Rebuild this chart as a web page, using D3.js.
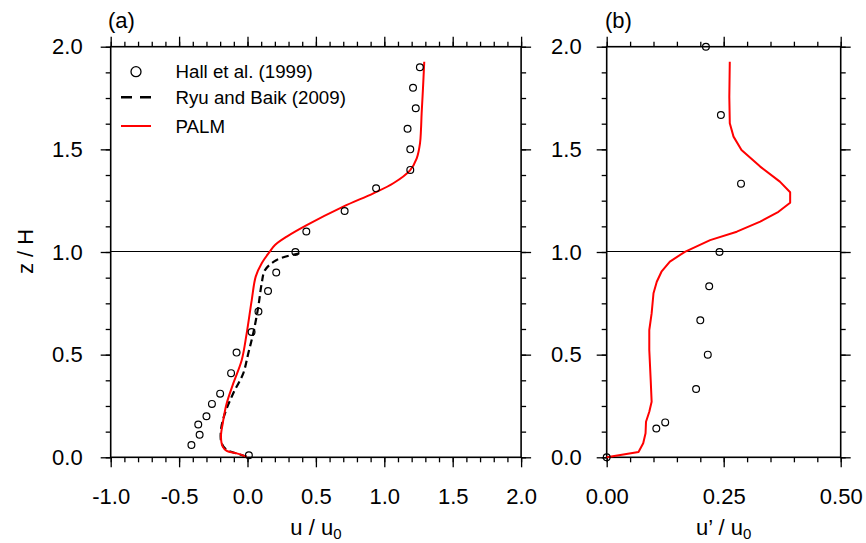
<!DOCTYPE html>
<html>
<head>
<meta charset="utf-8">
<script src="https://cdn.jsdelivr.net/npm/d3@7/dist/d3.min.js"></script>
<style>
  body { margin: 0; background: #fff; }
  svg { display: block; font-family: "Liberation Sans", Arial, Helvetica, sans-serif; }
</style>
</head>
<body>
<svg id="chart" width="866" height="543"></svg>
<script>
// ---- data ----
// panel (a): mean streamwise velocity
var hallZa = [1.90,1.80,1.70,1.60,1.50,1.40,1.31,1.20,1.10,1.00,0.90,0.81,0.71,0.61,0.51,0.41,0.31,0.26,0.20,0.16,0.11,0.06,0.01];
var hallUa = [1.26,1.21,1.23,1.17,1.19,1.19,0.94,0.71,0.43,0.35,0.21,0.15,0.08,0.03,-0.08,-0.12,-0.20,-0.26,-0.30,-0.36,-0.35,-0.41,0.01];

var ryuZ = [0.994,0.961,0.912,0.848,0.734,0.604,0.507,0.409,0.312,0.214,0.133,0.068,0.036,0.019,0.003];
var ryuU = [0.379,0.213,0.128,0.104,0.079,0.042,0.006,-0.031,-0.104,-0.165,-0.194,-0.189,-0.152,-0.079,-0.006];

var palmZa = [1.927,1.80,1.676,1.594,1.529,1.456,1.398,1.335,1.286,1.221,1.131,1.075,1.034,0.999,0.945,0.880,0.766,0.604,0.474,0.360,0.263,0.166,0.100,0.052,0.031,0.019,0.003];
var palmUa = [1.292,1.283,1.273,1.268,1.261,1.237,1.188,1.066,0.920,0.700,0.433,0.287,0.201,0.160,0.104,0.060,0.031,-0.006,-0.042,-0.104,-0.152,-0.181,-0.194,-0.181,-0.152,-0.079,-0.006];

// panel (b): streamwise turbulence intensity
var hallZb = [2.0,1.667,1.333,1.0,0.833,0.667,0.5,0.333,0.17,0.14,0.0];
var hallUb = [0.212,0.244,0.287,0.241,0.219,0.200,0.216,0.191,0.125,0.106,0.0];

var palmZb = [1.927,1.756,1.627,1.562,1.497,1.416,1.343,1.291,1.240,1.196,1.148,1.099,1.058,1.001,0.953,0.904,0.855,0.799,0.701,0.620,0.523,0.377,0.271,0.222,0.173,0.117,0.068,0.026,0.0];
var palmUb = [0.263,0.262,0.263,0.271,0.288,0.328,0.370,0.392,0.392,0.367,0.328,0.278,0.221,0.167,0.135,0.117,0.107,0.100,0.096,0.091,0.091,0.094,0.096,0.091,0.084,0.083,0.078,0.068,0.0];

var ticksXa = [-1.0,-0.5,0.0,0.5,1.0,1.5,2.0];
var ticksXb = [0.0,0.25,0.5];
var ticksY = [0.0,0.5,1.0,1.5,2.0];

var legendNames = ["Hall et al. (1999)", "Ryu and Baik (2009)", "PALM"];

// ---- layout ----
var plotTop = 46.7, plotBottom = 457.3;
var svg = d3.select("#chart");

var y = d3.scaleLinear().domain([0, 2]).range([plotBottom, plotTop]);
var xa = d3.scaleLinear().domain([-1, 2]).range([110.7, 521.1]);
var xb = d3.scaleLinear().domain([0, 0.5]).range([606.7, 840.7]);

function zip(xs, zs){
	return xs.map(function(v, i){ return [v, zs[i]]; });
}

// plain hyphen for negatives, like the original
function fmt(spec){
	var f = d3.format(spec);
	return function(d){ return f(d).replace("\u2212", "-"); };
}

function frame(x, majorX, yPad, xFmt, minorX){
	var g = svg.append("g");
	var x0 = x.range()[0], x1 = x.range()[1];
	var minorY = d3.range(0, 2.0001, 0.125);

	// minor ticks
	g.append("g").attr("transform", "translate(0," + plotBottom + ")")
		.call(d3.axisBottom(x).tickValues(minorX).tickSize(5).tickFormat(""));
	g.append("g").attr("transform", "translate(0," + plotTop + ")")
		.call(d3.axisTop(x).tickValues(minorX).tickSize(5).tickFormat(""));
	g.append("g").attr("transform", "translate(" + x0 + ",0)")
		.call(d3.axisLeft(y).tickValues(minorY).tickSize(5).tickFormat(""));
	g.append("g").attr("transform", "translate(" + x1 + ",0)")
		.call(d3.axisRight(y).tickValues(minorY).tickSize(5).tickFormat(""));

	// major ticks
	g.append("g").attr("class", "lab").attr("transform", "translate(0," + plotBottom + ")")
		.call(d3.axisBottom(x).tickValues(majorX).tickSize(10).tickPadding(21).tickFormat(xFmt));
	g.append("g").attr("transform", "translate(0," + plotTop + ")")
		.call(d3.axisTop(x).tickValues(majorX).tickSize(10).tickFormat(""));
	g.append("g").attr("class", "lab").attr("transform", "translate(" + x0 + ",0)")
		.call(d3.axisLeft(y).tickValues(ticksY).tickSize(10).tickPadding(yPad).tickFormat(fmt(".1f")));
	g.append("g").attr("transform", "translate(" + x1 + ",0)")
		.call(d3.axisRight(y).tickValues(ticksY).tickSize(10).tickFormat(""));

	g.selectAll(".domain").remove();
	g.selectAll(".tick line").attr("stroke", "#000").attr("stroke-width", 1.3);
	g.selectAll(".lab text").attr("font-size", 22).attr("fill", "#000")
		.attr("font-family", "'Liberation Sans', Arial, Helvetica, sans-serif");

	// reference line at z/H = 1
	g.append("line").attr("x1", x0).attr("x2", x1)
		.attr("y1", y(1) - 0.5).attr("y2", y(1) - 0.5)
		.attr("stroke", "#000").attr("stroke-width", 1.2);

	// box
	g.append("rect").attr("x", x0).attr("y", plotTop)
		.attr("width", x1 - x0).attr("height", plotBottom - plotTop)
		.attr("fill", "none").attr("stroke", "#000").attr("stroke-width", 1.6);
	return g;
}

frame(xa, ticksXa, 18, fmt(".1f"), d3.range(-1, 2.0001, 0.1));
frame(xb, ticksXb, 15, fmt(".2f"), d3.range(0, 0.5001, 0.05));

// ---- panel (a) curves ----
var lineA = d3.line().x(function(d){ return xa(d[0]); }).y(function(d){ return y(d[1]); })
	.curve(d3.curveCatmullRom.alpha(0.5));

svg.append("path").datum(zip(ryuU, ryuZ)).attr("d", lineA)
	.attr("fill", "none").attr("stroke", "#000").attr("stroke-width", 2.2)
	.attr("stroke-dasharray", "7,4");

svg.append("path").datum(zip(palmUa, palmZa)).attr("d", lineA)
	.attr("fill", "none").attr("stroke", "#f00").attr("stroke-width", 2);

svg.append("g").selectAll("circle").data(zip(hallUa, hallZa)).join("circle")
	.attr("cx", function(d){ return xa(d[0]); })
	.attr("cy", function(d){ return y(d[1]); })
	.attr("r", 3.4).attr("fill", "none").attr("stroke", "#000").attr("stroke-width", 1.2);

// ---- panel (b) curves ----
var lineB = d3.line().x(function(d){ return xb(d[0]); }).y(function(d){ return y(d[1]); });

svg.append("path").datum(zip(palmUb, palmZb)).attr("d", lineB)
	.attr("fill", "none").attr("stroke", "#f00").attr("stroke-width", 2)
	.attr("stroke-linejoin", "round");

svg.append("g").selectAll("circle").data(zip(hallUb, hallZb)).join("circle")
	.attr("cx", function(d){ return xb(d[0]); })
	.attr("cy", function(d){ return y(d[1]); })
	.attr("r", 3.4).attr("fill", "none").attr("stroke", "#000").attr("stroke-width", 1.2);

// ---- legend ----
var leg = svg.append("g");
var legY = [71.7, 97.3, 126];
leg.append("circle").attr("cx", 136).attr("cy", legY[0]).attr("r", 5)
	.attr("fill", "none").attr("stroke", "#000").attr("stroke-width", 1.3);
leg.append("line").attr("x1", 121).attr("x2", 151).attr("y1", legY[1]).attr("y2", legY[1])
	.attr("stroke", "#000").attr("stroke-width", 2.4).attr("stroke-dasharray", "11,8");
leg.append("line").attr("x1", 121).attr("x2", 151).attr("y1", legY[2]).attr("y2", legY[2])
	.attr("stroke", "#f00").attr("stroke-width", 2);
leg.selectAll("text").data(legendNames).join("text")
	.attr("x", 175.5).attr("y", function(d, i){ return legY[i] + 6.5; })
	.attr("font-size", 18.7).text(function(d){ return d; });

// ---- titles ----
svg.append("text").attr("x", 108).attr("y", 28).attr("font-size", 22).text("(a)");
svg.append("text").attr("x", 605).attr("y", 28).attr("font-size", 22).text("(b)");

svg.append("text").attr("transform", "translate(33,251.5) rotate(-90)")
	.attr("text-anchor", "middle").attr("font-size", 22).text("z / H");

function xTitle(cx, main){
	var t = svg.append("text").attr("x", cx).attr("y", 535)
		.attr("text-anchor", "middle").attr("font-size", 22);
	t.append("tspan").text(main);
	t.append("tspan").attr("font-size", 15).attr("dy", 4).text("0");
}
xTitle(xa(0.5), "u / u");
xTitle(xb(0.25), "u\u2019 / u");
</script>
</body>
</html>
